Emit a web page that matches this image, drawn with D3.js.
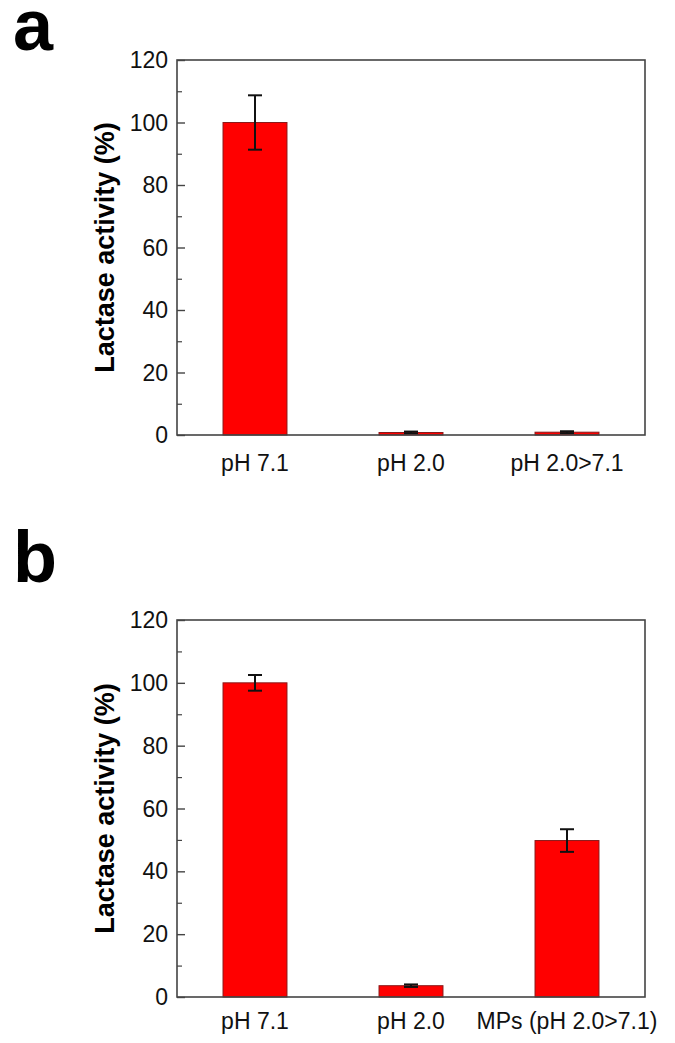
<!DOCTYPE html>
<html>
<head>
<meta charset="utf-8">
<script src="https://cdnjs.cloudflare.com/ajax/libs/d3/7.8.5/d3.min.js"></script>
<style>
  body { margin: 0; background: #fff; }
  svg { display: block; font-family: "Liberation Sans", Arial, sans-serif; }
</style>
</head>
<body>
<svg id="chart" width="675" height="1043"></svg>
<script>
// data
var categories_a = ["pH 7.1", "pH 2.0", "pH 2.0>7.1"];
var values_a = [100, 0.8, 0.9];
var errors_a = [8.7, 0.3, 0.3];

var categories_b = ["pH 7.1", "pH 2.0", "MPs (pH 2.0>7.1)"];
var values_b = [100, 3.6, 49.8];
var errors_b = [2.5, 0.4, 3.6];

var y_ticks = [0, 20, 40, 60, 80, 100, 120];
var y_minor = [10, 30, 50, 70, 90, 110];

var svg = d3.select("#chart");

function draw_panel(letter, cats, vals, errs, top, bottom, letter_y, label_dy){
  var left = 177, right = 645;

  var x = d3.scaleBand().domain(cats).range([left, right]).paddingInner(0.59).paddingOuter(0.295);
  var y = d3.scaleLinear().domain([0, 120]).range([bottom, top]);

  var g = svg.append("g").attr("class", "panel " + letter);

  // panel letter
  g.append("text")
    .attr("x", 13).attr("y", letter_y)
    .attr("font-size", 72).attr("font-weight", "bold")
    .attr("fill", "#000")
    .text(letter);

  // bars
  g.selectAll("rect.bar").data(vals).enter().append("rect")
    .attr("class", "bar")
    .attr("x", function(d, i){ return x(cats[i]); })
    .attr("y", function(d){ return y(d); })
    .attr("width", x.bandwidth())
    .attr("height", function(d){ return y(0) - y(d); })
    .attr("fill", "#ff0000")
    .attr("stroke", "#8a1a1a")
    .attr("stroke-width", 1);

  // error bars
  var cap = 7;
  vals.forEach(function(v, i){
    var cx = x(cats[i]) + x.bandwidth()/2;
    var eg = g.append("g").attr("stroke", "#111").attr("stroke-width", 2);
    eg.append("line").attr("x1", cx).attr("x2", cx).attr("y1", y(v + errs[i])).attr("y2", y(v - errs[i]));
    eg.append("line").attr("x1", cx - cap).attr("x2", cx + cap).attr("y1", y(v + errs[i])).attr("y2", y(v + errs[i]));
    eg.append("line").attr("x1", cx - cap).attr("x2", cx + cap).attr("y1", y(v - errs[i])).attr("y2", y(v - errs[i]));
  });

  // frame
  g.append("rect")
    .attr("x", left).attr("y", top)
    .attr("width", right - left).attr("height", bottom - top)
    .attr("fill", "none").attr("stroke", "#444").attr("stroke-width", 1.6);

  // y axis, ticks point inwards
  var y_axis = d3.axisRight(y).tickValues(y_ticks).tickSize(8).tickFormat("");
  g.append("g").attr("transform", "translate(" + left + ",0)").call(y_axis)
    .call(function(s){ s.select(".domain").remove(); s.selectAll("line").attr("stroke", "#444").attr("stroke-width", 1.4); });
  var y_axis_minor = d3.axisRight(y).tickValues(y_minor).tickSize(5).tickFormat("");
  g.append("g").attr("transform", "translate(" + left + ",0)").call(y_axis_minor)
    .call(function(s){ s.select(".domain").remove(); s.selectAll("line").attr("stroke", "#444").attr("stroke-width", 1.2); });

  // tick labels
  g.selectAll("text.ytick").data(y_ticks).enter().append("text")
    .attr("class", "ytick")
    .attr("x", left - 9)
    .attr("y", function(d){ return y(d) + 8; })
    .attr("text-anchor", "end")
    .attr("font-size", 23)
    .attr("fill", "#111")
    .text(function(d){ return d; });

  // category labels
  g.selectAll("text.xcat").data(cats).enter().append("text")
    .attr("class", "xcat")
    .attr("x", function(d){ return x(d) + x.bandwidth()/2; })
    .attr("y", bottom + label_dy)
    .attr("text-anchor", "middle")
    .attr("font-size", 23)
    .attr("fill", "#111")
    .text(function(d){ return d; });

  // y axis title
  g.append("text")
    .attr("transform", "translate(114," + ((top + bottom)/2) + ") rotate(-90)")
    .attr("text-anchor", "middle")
    .attr("font-size", 27).attr("font-weight", "bold")
    .attr("fill", "#000")
    .text("Lactase activity (%)");
}

draw_panel("a", categories_a, values_a, errors_a, 60, 435, 50, 36);
draw_panel("b", categories_b, values_b, errors_b, 620, 997, 582, 32);
</script>
</body>
</html>
